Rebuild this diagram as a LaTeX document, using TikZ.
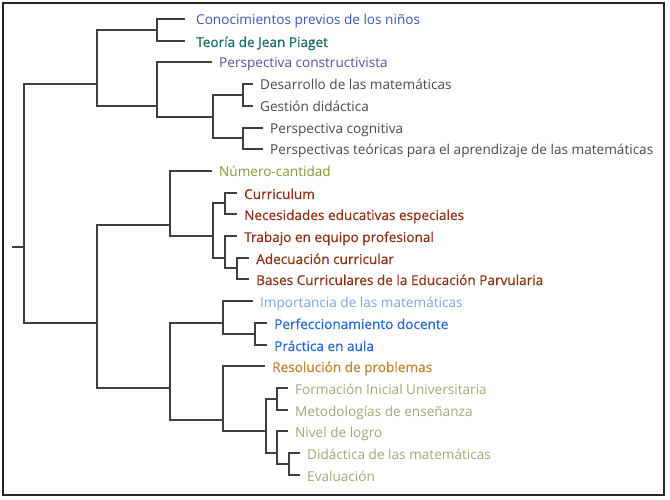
\documentclass[tikz,border=0pt]{standalone}
\usepackage{fontspec}
\setmainfont{Open Sans}
\newfontface\semifont[FakeBold=0.5]{Open Sans}
\usepackage{xcolor}
\definecolor{TreeGrey}{HTML}{3F3F3F}
\definecolor{FrameGrey}{HTML}{262626}
\definecolor{PriorBlue}{HTML}{3A55B4}
\definecolor{PiagetTeal}{HTML}{1B6D5B}
\definecolor{ConstrPurple}{HTML}{5A4E9E}
\definecolor{TheoryGrey}{HTML}{4A4A4A}
\definecolor{NumberOlive}{HTML}{7F9A2F}
\definecolor{CurricRed}{HTML}{8E2E14}
\definecolor{ImportSky}{HTML}{76A7E0}
\definecolor{PracticeBlue}{HTML}{2468D0}
\definecolor{ProblemOrange}{HTML}{C2812F}
\definecolor{TrainingKhaki}{HTML}{A3A57A}
\usepackage{tikz}
\usetikzlibrary{calc}
\tikzstyle{leaf} = [anchor=west, inner xsep=7pt, inner ysep=0pt, text height=12pt, text depth=0pt, font=\fontsize{13.6}{16}\selectfont]
\tikzstyle{strong} = [font=\fontsize{13.6}{16}\semifont]
\tikzstyle{branch} = [draw=TreeGrey, line width=2pt]
\tikzstyle{frame} = [draw=FrameGrey, line width=1.4pt]

\begin{document}
\begin{tikzpicture}[x=1pt, y=-1pt]
        \useasboundingbox (0,0) rectangle (670,500);
        \draw [frame] (3,3) rectangle (664,495);

        % --- first cluster: theory ---
        \node [leaf, inner xsep=11pt, text=PriorBlue] (prior) at (185,19) {Conocimientos previos de los niños};
        \node [leaf, strong, inner xsep=11pt, text=PiagetTeal] (piaget) at (185,41) {Teoría de Jean Piaget};
        \node [leaf, text=ConstrPurple] (constr) at (212,62) {Perspectiva constructivista};
        \node [leaf, text=TheoryGrey] (mathdev) at (253,84) {Desarrollo de las matemáticas};
        \node [leaf, text=TheoryGrey] (didmgmt) at (253,106) {Gestión didáctica};
        \node [leaf, text=TheoryGrey] (cognitive) at (263,128) {Perspectiva cognitiva};
        \node [leaf, text=TheoryGrey] (theories) at (263,149) {Perspectivas teóricas para el aprendizaje de las matemáticas};

        % --- second cluster: curriculum ---
        \node [leaf, text=NumberOlive] (numqty) at (212,171) {Número-cantidad};
        \node [leaf, strong, text=CurricRed] (curric) at (237,193) {Curriculum};
        \node [leaf, strong, text=CurricRed] (needs) at (237,214) {Necesidades educativas especiales};
        \node [leaf, strong, text=CurricRed] (teamwork) at (237,236) {Trabajo en equipo profesional};
        \node [leaf, strong, text=CurricRed] (adapt) at (249,258) {Adecuación curricular};
        \node [leaf, strong, text=CurricRed] (bases) at (249,279) {Bases Curriculares de la Educación Parvularia};

        % --- third cluster: practice ---
        \node [leaf, text=ImportSky] (importance) at (253,301) {Importancia de las matemáticas};
        \node [leaf, strong, text=PracticeBlue] (training) at (267,323) {Perfeccionamiento docente};
        \node [leaf, strong, text=PracticeBlue] (practice) at (267,345) {Práctica en aula};
        \node [leaf, strong, text=ProblemOrange] (problems) at (265,366) {Resolución de problemas};
        \node [leaf, text=TrainingKhaki] (initial) at (288,388) {Formación Inicial Universitaria};
        \node [leaf, text=TrainingKhaki] (methods) at (288,410) {Metodologías de enseñanza};
        \node [leaf, text=TrainingKhaki] (achieve) at (288,431) {Nivel de logro};
        \node [leaf, text=TrainingKhaki] (didactics) at (300,453) {Didáctica de las matemáticas};
        \node [leaf, text=TrainingKhaki] (evaluation) at (300,475) {Evaluación};

        % Join points of the tree
        \coordinate (stub) at (12,247);
        \coordinate (root) at (24,247);
        \coordinate (jTheory) at (97,84);
        \coordinate (jPiaget) at (157,30);
        \coordinate (jConstr) at (157,106);
        \coordinate (jPersp) at (213,117);
        \coordinate (jMath) at (243,95);
        \coordinate (jCogn) at (243,138);
        \coordinate (jRest) at (97,323);
        \coordinate (jCurric) at (170,225);
        \coordinate (jNeeds) at (213,236);
        \coordinate (jSpecial) at (225,203);
        \coordinate (jTeam) at (225,258);
        \coordinate (jBases) at (237,268);
        \coordinate (jPractice) at (170,388);
        \coordinate (jImport) at (223,323);
        \coordinate (jClass) at (255,334);
        \coordinate (jProblem) at (223,420);
        \coordinate (jTraining) at (266,431);
        \coordinate (jInitial) at (277,399);
        \coordinate (jAchieve) at (277,453);
        \coordinate (jEval) at (289,464);

        % Connect root
        \draw [branch] (stub) -- (root);
        \draw [branch] (root) |- (jTheory);
        \draw [branch] (root) |- (jRest);

        % Connect first cluster
        \draw [branch] (jTheory) |- (jPiaget);
        \draw [branch] (jTheory) |- (jConstr);
        \draw [branch] (jPiaget) |- (prior.west);
        \draw [branch] (jPiaget) |- (piaget.west);
        \draw [branch] (jConstr) |- (constr.west);
        \draw [branch] (jConstr) |- (jPersp);
        \draw [branch] (jPersp) |- (jMath);
        \draw [branch] (jPersp) |- (jCogn);
        \draw [branch] (jMath) |- (mathdev.west);
        \draw [branch] (jMath) |- (didmgmt.west);
        \draw [branch] (jCogn) |- (cognitive.west);
        \draw [branch] (jCogn) |- (theories.west);

        % Connect second cluster
        \draw [branch] (jRest) |- (jCurric);
        \draw [branch] (jRest) |- (jPractice);
        \draw [branch] (jCurric) |- (numqty.west);
        \draw [branch] (jCurric) |- (jNeeds);
        \draw [branch] (jNeeds) |- (jSpecial);
        \draw [branch] (jNeeds) |- (jTeam);
        \draw [branch] (jSpecial) |- (curric.west);
        \draw [branch] (jSpecial) |- (needs.west);
        \draw [branch] (jTeam) |- (teamwork.west);
        \draw [branch] (jTeam) |- (jBases);
        \draw [branch] (jBases) |- (adapt.west);
        \draw [branch] (jBases) |- (bases.west);

        % Connect third cluster
        \draw [branch] (jPractice) |- (jImport);
        \draw [branch] (jPractice) |- (jProblem);
        \draw [branch] (jImport) |- (importance.west);
        \draw [branch] (jImport) |- (jClass);
        \draw [branch] (jClass) |- (training.west);
        \draw [branch] (jClass) |- (practice.west);
        \draw [branch] (jProblem) |- (problems.west);
        \draw [branch] (jProblem) |- (jTraining);
        \draw [branch] (jTraining) |- (jInitial);
        \draw [branch] (jTraining) |- (jAchieve);
        \draw [branch] (jInitial) |- (initial.west);
        \draw [branch] (jInitial) |- (methods.west);
        \draw [branch] (jAchieve) |- (achieve.west);
        \draw [branch] (jAchieve) |- (jEval);
        \draw [branch] (jEval) |- (didactics.west);
        \draw [branch] (jEval) |- (evaluation.west);
    \end{tikzpicture}
\end{document}
